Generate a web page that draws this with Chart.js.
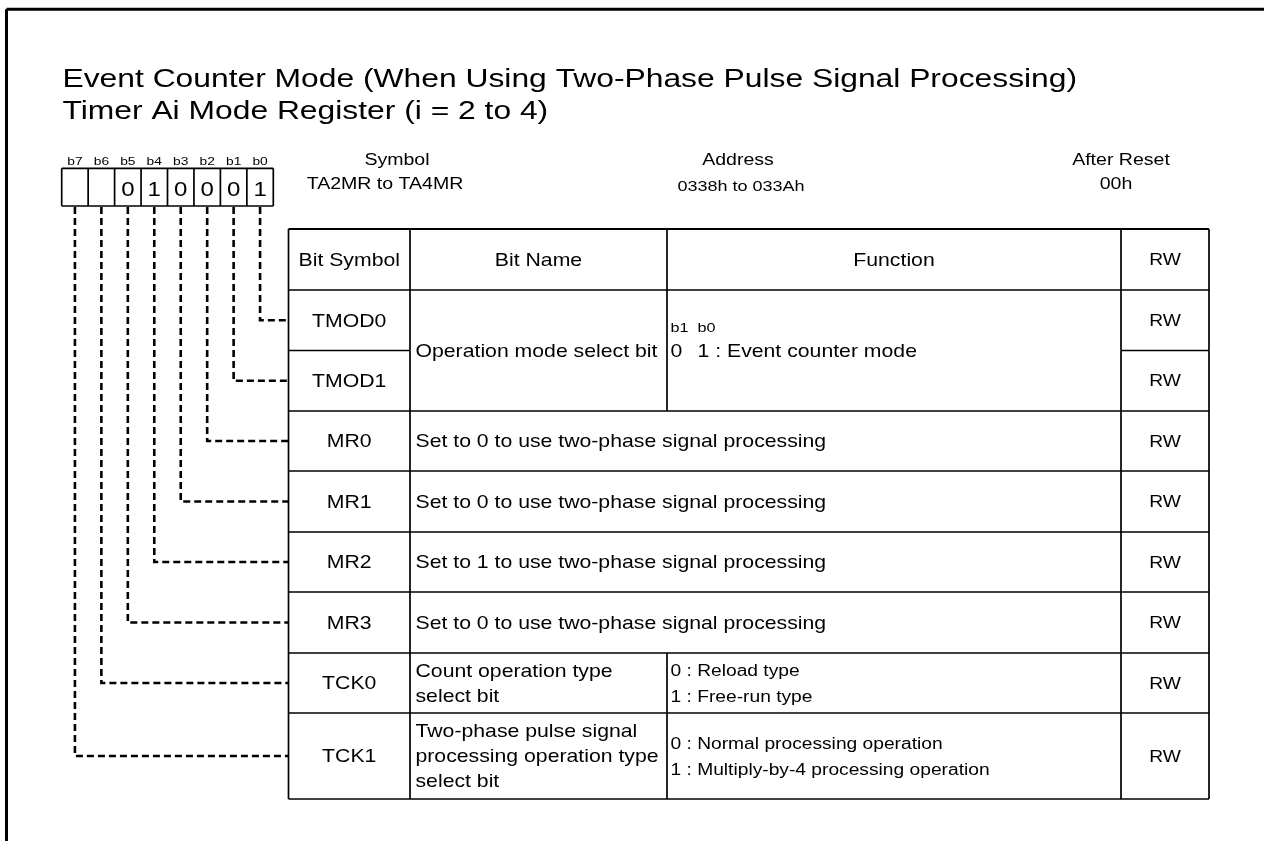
<!DOCTYPE html>
<html lang="en">
<head>
  <meta charset="UTF-8">
  <title>Timer Ai Mode Register - Event Counter Mode</title>
  <script src="https://cdn.jsdelivr.net/npm/chart.js"></script>
  <style>
    body { margin: 0; background: #fff; }
    #wrap { position: relative; width: 1264px; height: 841px; }
  </style>
</head>
<body>
  <div id="wrap"><canvas id="regChart"></canvas></div>

  <script>
    // --- data ---
    const titleLines = [
      'Event Counter Mode (When Using Two-Phase Pulse Signal Processing)',
      'Timer Ai Mode Register (i = 2 to 4)'
    ];
    const bitLabels = ['b7', 'b6', 'b5', 'b4', 'b3', 'b2', 'b1', 'b0'];
    const bitValues = ['', '', '0', '1', '0', '0', '0', '1'];
    const infoHeads = ['Symbol', 'Address', 'After Reset'];
    const infoValues = ['TA2MR to TA4MR', '0338h to 033Ah', '00h'];
    const columnHeads = ['Bit Symbol', 'Bit Name', 'Function', 'RW'];

    // one entry per table row, row k is bit b(k)
    const bitSymbols = ['TMOD0', 'TMOD1', 'MR0', 'MR1', 'MR2', 'MR3', 'TCK0', 'TCK1'];
    const nameRowSpan = [2, 0, 1, 1, 1, 1, 1, 1];
    const nameSpansFunction = [false, false, true, true, true, true, false, false];
    const bitNames = [
      ['Operation mode select bit'], null,
      ['Set to 0 to use two-phase signal processing'],
      ['Set to 0 to use two-phase signal processing'],
      ['Set to 1 to use two-phase signal processing'],
      ['Set to 0 to use two-phase signal processing'],
      ['Count operation type', 'select bit'],
      ['Two-phase pulse signal', 'processing operation type', 'select bit']
    ];
    const functionHeads = ['b1\tb0', null, null, null, null, null, null, null];
    const bitFunctions = [
      ['0\t1 : Event counter mode'], null, null, null, null, null,
      ['0 : Reload type', '1 : Free-run type'],
      ['0 : Normal processing operation', '1 : Multiply-by-4 processing operation']
    ];
    const rwValues = ['RW', 'RW', 'RW', 'RW', 'RW', 'RW', 'RW', 'RW'];

    // --- layout ---
    const W = 1264, H = 841;
    const FONT = '"Liberation Sans", Arial, Helvetica, sans-serif';
    const SX = 1.2;                      // glyphs in the reference are wide
    const BOX = { left: 61.7, cell: 26.45, top: 168.3, bottom: 206 };
    const COLS = [288.5, 410, 667, 1121, 1209];
    const ROWS = [229, 290, 350.5, 411, 471, 532, 592, 653, 713, 799];
    const infoX = [[397, 385], [738, 741], [1121, 1116]];

    const bitCenter = i => BOX.left + (i + 0.5) * BOX.cell;     // i = index in bitLabels
    const rowTop = k => ROWS[k + 1];
    const rowMid = k => (ROWS[k + 1] + ROWS[k + 2]) / 2;

    // dashed connectors from each bit cell to its row
    const connectors = bitSymbols.map((_, k) => {
      const cx = bitCenter(bitLabels.length - 1 - k);
      return {
        data: [{ x: cx, y: BOX.bottom + 1 }, { x: cx, y: rowMid(k) }, { x: COLS[0], y: rowMid(k) }],
        showLine: true,
        borderColor: '#000',
        borderWidth: 2.6,
        borderDash: [7, 4],
        pointRadius: 0,
        fill: false,
        tension: 0
      };
    });

    function text(ctx, s, x, y, size, align) {
      ctx.save();
      ctx.font = size + 'px ' + FONT;
      ctx.fillStyle = '#000';
      ctx.textAlign = align || 'left';
      ctx.textBaseline = 'alphabetic';
      ctx.translate(x, y);
      ctx.scale(SX, 1);
      ctx.fillText(s, 0, 0);
      ctx.restore();
    }

    // lines of text centred vertically on mid
    function block(ctx, lines, x, mid, size, gap, align) {
      const first = mid + 0.358 * size - (lines.length - 1) * gap / 2;
      lines.forEach((ln, i) => {
        const parts = ln.split('\t');
        text(ctx, parts[0], x, first + i * gap, size, align);
        if (parts[1]) text(ctx, parts[1], x + 27, first + i * gap, size, align);
      });
    }

    const registerPlugin = {
      id: 'registerTable',
      afterDraw(chart) {
        const ctx = chart.ctx;
        const xs = chart.scales.x, ys = chart.scales.y;
        const X = v => xs.getPixelForValue(v);
        const Y = v => ys.getPixelForValue(v);

        function line(x1, y1, x2, y2, w) {
          ctx.save();
          ctx.strokeStyle = '#000';
          ctx.lineWidth = w;
          ctx.beginPath();
          ctx.moveTo(X(x1), Y(y1));
          ctx.lineTo(X(x2), Y(y2));
          ctx.stroke();
          ctx.restore();
        }

        // frame
        line(6.5, 9.3, W, 9.3, 3);
        line(6.5, 9.3, 6.5, H, 3);

        // title
        titleLines.forEach((t, i) => text(ctx, t, X(62.5), Y(87 + i * 31.5), 26.5));

        // bit box
        bitLabels.forEach((b, i) => {
          text(ctx, b, X(bitCenter(i)), Y(165), 11.5, 'center');
          text(ctx, bitValues[i], X(bitCenter(i)), Y(195.5), 20, 'center');
        });
        line(BOX.left, BOX.top, BOX.left + 8 * BOX.cell, BOX.top, 1.7);
        line(BOX.left, BOX.bottom, BOX.left + 8 * BOX.cell, BOX.bottom, 1.7);
        for (let i = 0; i <= 8; i++) {
          line(BOX.left + i * BOX.cell, BOX.top, BOX.left + i * BOX.cell, BOX.bottom, 1.7);
        }

        // symbol / address / reset
        infoHeads.forEach((h, i) => {
          text(ctx, h, X(infoX[i][0]), Y(165), 16.3, 'center');
          text(ctx, infoValues[i], X(infoX[i][1]), Y(i === 1 ? 190.5 : 189), i === 1 ? 15 : 16.3, 'center');
        });

        // table header
        const hMid = (ROWS[0] + ROWS[1]) / 2;
        columnHeads.forEach((h, c) => {
          text(ctx, h, X((COLS[c] + COLS[c + 1]) / 2), Y(hMid + 0.358 * (c === 3 ? 16 : 17.7)), c === 3 ? 16 : 17.7, 'center');
        });
        line(COLS[0], ROWS[0], COLS[4], ROWS[0], 1.9);
        line(COLS[0], ROWS[1], COLS[4], ROWS[1], 1.7);
        COLS.forEach(cx => line(cx, ROWS[0], cx, ROWS[1], 1.7));

        // table body
        bitSymbols.forEach((sym, k) => {
          const top = rowTop(k), bot = ROWS[k + 2], mid = rowMid(k);
          // symbol and RW cells
          text(ctx, sym, X((COLS[0] + COLS[1]) / 2), Y(mid + 0.358 * 17.7), 17.7, 'center');
          text(ctx, rwValues[k], X((COLS[3] + COLS[4]) / 2), Y(mid + 0.358 * 16), 16, 'center');
          line(COLS[0], bot, COLS[1], bot, 1.7);
          line(COLS[3], bot, COLS[4], bot, 1.7);
          [0, 1, 3, 4].forEach(c => line(COLS[c], top, COLS[c], bot, 1.7));

          if (nameRowSpan[k] === 0) return;
          const spanBot = ROWS[k + 1 + nameRowSpan[k]];
          const spanMid = (top + spanBot) / 2;
          line(COLS[1], spanBot, COLS[3], spanBot, 1.7);
          block(ctx, bitNames[k], X(COLS[1] + 5.5), Y(spanMid), 17.7, 25, 'left');
          if (!nameSpansFunction[k]) {
            line(COLS[2], top, COLS[2], spanBot, 1.7);
            if (functionHeads[k]) {
              block(ctx, bitFunctions[k], X(COLS[2] + 3.5), Y(spanMid), 17.7, 24, 'left');
              block(ctx, [functionHeads[k]], X(COLS[2] + 3.5), Y(spanMid - 23), 13.5, 0, 'left');
            } else {
              block(ctx, bitFunctions[k], X(COLS[2] + 3.5), Y(spanMid), 16, 26, 'left');
            }
          }
        });
      }
    };

    new Chart(document.getElementById('regChart'), {
      type: 'scatter',
      data: { datasets: connectors },
      options: {
        responsive: true,
        maintainAspectRatio: false,
        animation: false,
        events: [],
        layout: { padding: 0 },
        scales: {
          x: { type: 'linear', min: 0, max: W, display: false },
          y: { type: 'linear', min: 0, max: H, reverse: true, display: false }
        },
        plugins: {
          legend: { display: false },
          tooltip: { enabled: false }
        }
      },
      plugins: [registerPlugin]
    });
  </script>
</body>
</html>
